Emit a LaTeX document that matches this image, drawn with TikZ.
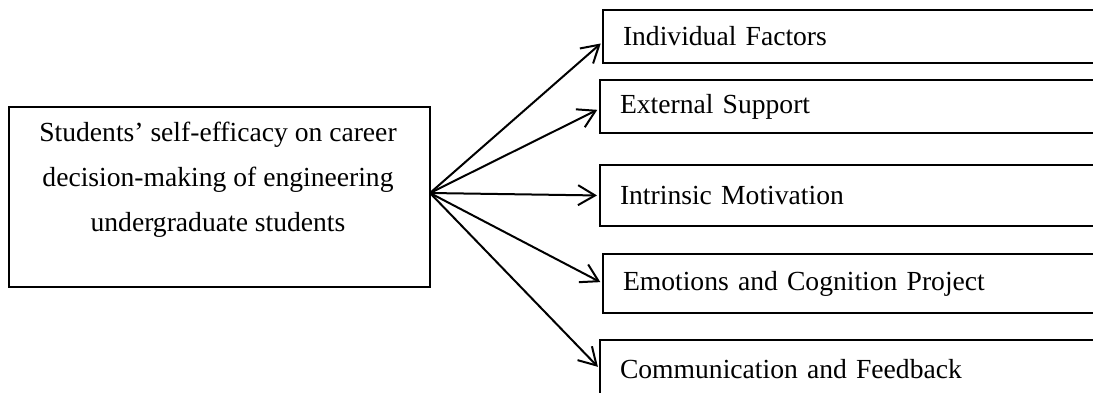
\documentclass[tikz,border=0pt]{standalone}
\usepackage{fontspec}
\setmainfont{Liberation Serif}
\usetikzlibrary{arrows.meta,positioning}
\tikzset{mainbox/.style={draw, line width=0.6pt, minimum width=210.5pt, minimum height=90pt, inner sep=0pt, outer sep=0pt}}
\tikzset{maintext/.style={align=center, inner sep=0pt, font=\fontsize{13.8}{22.5}\selectfont}}
\tikzset{factor/.style={draw, line width=0.6pt, anchor=west, text width=280pt, align=left, inner xsep=10pt, inner ysep=0pt, outer sep=0pt, font=\fontsize{13.8}{16}\selectfont}}
\tikzset{arr/.style={line width=1pt, -{Straight Barb[length=8.5pt,width=10pt]}, shorten >=1.5pt}}

\begin{document}
\begin{tikzpicture}[x=0.5pt,y=-0.5pt]
\clip (0,0) rectangle (1093,392);

\node[mainbox] (main) at (219.5,197) {};
\node[maintext] (goal) at (218,180) {Students’ self-efficacy on career\\ decision-making of engineering\\ undergraduate students};

\node[factor, minimum height=26.5pt] (f1) at (603,36.5) {Individual Factors};
\node[factor, minimum height=26.5pt] (f2) at (600,106.5) {External Support};
\node[factor, minimum height=30.5pt] (f3) at (600,195.5) {Intrinsic Motivation};
\node[factor, minimum height=29.5pt] (f4) at (603,283.5) {Emotions and Cognition Project};
\node[factor, minimum height=29pt] (f5) at (600,369) {Communication and Feedback};

\coordinate (hub) at ([yshift=2pt]main.east);
\foreach \f/\s in {f1/-2.5,f2/-1,f3/0,f4/0,f5/0}
  \draw[arr] (hub) -- ([yshift=\s pt]\f.west);

\end{tikzpicture}
\end{document}
